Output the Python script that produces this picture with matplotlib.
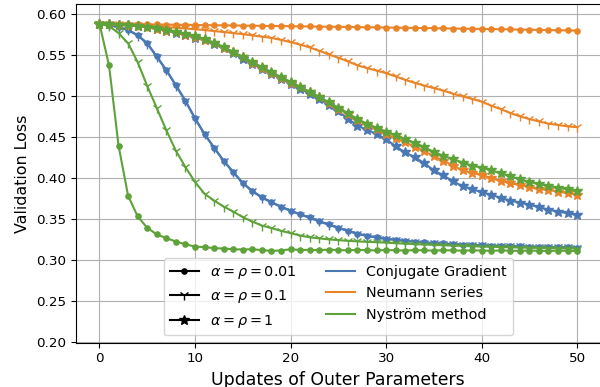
import matplotlib
matplotlib.use("Agg")
import matplotlib.pyplot as plt
from matplotlib.lines import Line2D

# Updates of outer parameters
steps = list(range(51))

# Conjugate Gradient
cg_001 = [0.5880, 0.5865, 0.5840, 0.5805, 0.5740, 0.5643, 0.5480, 0.5315, 0.5130, 0.4940,
          0.4728, 0.4535, 0.4370, 0.4210, 0.4072, 0.3938, 0.3840, 0.3765, 0.3704, 0.3650,
          0.3601, 0.3557, 0.3518, 0.3473, 0.3433, 0.3393, 0.3355, 0.3320, 0.3295, 0.3275,
          0.3258, 0.3245, 0.3232, 0.3222, 0.3213, 0.3206, 0.3200, 0.3193, 0.3187, 0.3183,
          0.3179, 0.3175, 0.3171, 0.3168, 0.3165, 0.3162, 0.3160, 0.3157, 0.3155, 0.3153,
          0.3150]
cg_01 = [0.5880, 0.5862, 0.5835, 0.5800, 0.5735, 0.5638, 0.5475, 0.5310, 0.5125, 0.4935,
         0.4722, 0.4530, 0.4365, 0.4205, 0.4068, 0.3935, 0.3836, 0.3760, 0.3700, 0.3646,
         0.3597, 0.3553, 0.3513, 0.3468, 0.3428, 0.3389, 0.3351, 0.3317, 0.3292, 0.3272,
         0.3255, 0.3242, 0.3230, 0.3220, 0.3211, 0.3204, 0.3198, 0.3191, 0.3186, 0.3181,
         0.3177, 0.3173, 0.3170, 0.3166, 0.3163, 0.3161, 0.3158, 0.3156, 0.3154, 0.3152,
         0.3149]
cg_1 = [0.5880, 0.5872, 0.5866, 0.5858, 0.5848, 0.5835, 0.5815, 0.5792, 0.5768, 0.5740,
        0.5710, 0.5675, 0.5632, 0.5578, 0.5518, 0.5455, 0.5392, 0.5330, 0.5268, 0.5208,
        0.5148, 0.5088, 0.5025, 0.4960, 0.4890, 0.4810, 0.4720, 0.4638, 0.4585, 0.4535,
        0.4472, 0.4385, 0.4310, 0.4250, 0.4180, 0.4090, 0.4030, 0.3958, 0.3898, 0.3862,
        0.3825, 0.3793, 0.3755, 0.3723, 0.3699, 0.3671, 0.3643, 0.3612, 0.3589, 0.3568,
        0.3545]

# Neumann series
ns_001 = [0.5880, 0.5878, 0.5876, 0.5875, 0.5873, 0.5871, 0.5870, 0.5868, 0.5867, 0.5866,
          0.5864, 0.5862, 0.5861, 0.5860, 0.5858, 0.5856, 0.5855, 0.5853, 0.5852, 0.5851,
          0.5849, 0.5847, 0.5846, 0.5844, 0.5843, 0.5841, 0.5840, 0.5838, 0.5836, 0.5835,
          0.5833, 0.5831, 0.5830, 0.5828, 0.5826, 0.5825, 0.5823, 0.5821, 0.5819, 0.5818,
          0.5816, 0.5814, 0.5812, 0.5810, 0.5808, 0.5806, 0.5804, 0.5802, 0.5800, 0.5798,
          0.5795]
ns_01 = [0.5880, 0.5875, 0.5870, 0.5865, 0.5858, 0.5852, 0.5845, 0.5838, 0.5830, 0.5822,
         0.5812, 0.5802, 0.5790, 0.5778, 0.5765, 0.5752, 0.5737, 0.5722, 0.5706, 0.5682,
         0.5655, 0.5625, 0.5590, 0.5550, 0.5505, 0.5465, 0.5420, 0.5372, 0.5338, 0.5308,
         0.5277, 0.5236, 0.5195, 0.5158, 0.5124, 0.5094, 0.5064, 0.5026, 0.4993, 0.4963,
         0.4930, 0.4880, 0.4838, 0.4790, 0.4750, 0.4716, 0.4688, 0.4660, 0.4645, 0.4627,
         0.4618]
ns_1 = [0.5880, 0.5871, 0.5865, 0.5858, 0.5849, 0.5837, 0.5818, 0.5796, 0.5773, 0.5746,
        0.5717, 0.5683, 0.5641, 0.5588, 0.5530, 0.5468, 0.5405, 0.5342, 0.5280, 0.5220,
        0.5162, 0.5103, 0.5042, 0.4980, 0.4912, 0.4845, 0.4775, 0.4705, 0.4645, 0.4590,
        0.4535, 0.4485, 0.4435, 0.4380, 0.4325, 0.4265, 0.4210, 0.4150, 0.4090, 0.4060,
        0.4035, 0.3996, 0.3963, 0.3935, 0.3913, 0.3887, 0.3863, 0.3852, 0.3833, 0.3813,
        0.3793]

# Nystrom method
ny_001 = [0.5880, 0.5370, 0.4390, 0.3780, 0.3530, 0.3390, 0.3310, 0.3265, 0.3223, 0.3190,
          0.3162, 0.3155, 0.3143, 0.3138, 0.3130, 0.3126, 0.3130, 0.3118, 0.3110, 0.3114,
          0.3130, 0.3120, 0.3122, 0.3118, 0.3125, 0.3120, 0.3116, 0.3122, 0.3118, 0.3115,
          0.3120, 0.3117, 0.3114, 0.3119, 0.3116, 0.3113, 0.3118, 0.3115, 0.3112, 0.3116,
          0.3114, 0.3111, 0.3115, 0.3112, 0.3110, 0.3114, 0.3111, 0.3109, 0.3113, 0.3110,
          0.3108]
ny_01 = [0.5880, 0.5850, 0.5765, 0.5640, 0.5410, 0.5120, 0.4850, 0.4580, 0.4330, 0.4130,
         0.3950, 0.3805, 0.3723, 0.3650, 0.3589, 0.3520, 0.3467, 0.3418, 0.3387, 0.3354,
         0.3326, 0.3297, 0.3275, 0.3262, 0.3250, 0.3240, 0.3232, 0.3225, 0.3220, 0.3215,
         0.3210, 0.3203, 0.3197, 0.3192, 0.3187, 0.3183, 0.3178, 0.3174, 0.3170, 0.3166,
         0.3162, 0.3159, 0.3156, 0.3153, 0.3150, 0.3148, 0.3145, 0.3143, 0.3141, 0.3139,
         0.3137]
ny_1 = [0.5880, 0.5873, 0.5867, 0.5860, 0.5851, 0.5840, 0.5822, 0.5800, 0.5778, 0.5752,
        0.5724, 0.5690, 0.5648, 0.5595, 0.5537, 0.5475, 0.5412, 0.5350, 0.5288, 0.5228,
        0.5170, 0.5110, 0.5050, 0.4988, 0.4920, 0.4855, 0.4788, 0.4718, 0.4660, 0.4608,
        0.4565, 0.4518, 0.4472, 0.4425, 0.4375, 0.4315, 0.4268, 0.4228, 0.4187, 0.4148,
        0.4125, 0.4090, 0.4055, 0.4022, 0.3980, 0.3950, 0.3925, 0.3903, 0.3876, 0.3862,
        0.3845]

methods = ['Conjugate Gradient', 'Neumann series', 'Nyström method']
colors = ['#4a78b5', '#ea8429', '#5ea23a']
alpha_labels = [r'$\alpha = \rho = 0.01$', r'$\alpha = \rho = 0.1$', r'$\alpha = \rho = 1$']
markers = ['.', '1', '*']
marker_sizes = [7.5, 7.5, 7.5]
results = [[cg_001, cg_01, cg_1], [ns_001, ns_01, ns_1], [ny_001, ny_01, ny_1]]

fig = plt.figure(figsize=(6, 3.87), dpi=100)
ax = fig.add_axes([0.126, 0.1145, 0.8757, 0.8752])

for m in range(3):
    for a in range(3):
        ax.plot(steps, results[m][a], color=colors[m], marker=markers[a],
                markersize=marker_sizes[a], linewidth=1.5)

ax.set_xlim(-2.5, 52.5)
ax.set_ylim(0.199, 0.612)
ax.set_yticks([0.20, 0.25, 0.30, 0.35, 0.40, 0.45, 0.50, 0.55, 0.60])
ax.set_xticks([0, 10, 20, 30, 40, 50])
ax.tick_params(labelsize=9.7)
ax.grid(True)
ax.set_axisbelow(True)

ax.set_xlabel('Updates of Outer Parameters', fontsize=12.4)
ax.set_ylabel('Validation Loss', fontsize=11.4)

handles = []
for a in range(3):
    handles.append(Line2D([], [], color='black', marker=markers[a], markersize=marker_sizes[a]))
for m in range(3):
    handles.append(Line2D([], [], color=colors[m]))
ax.legend(handles, alpha_labels + methods, loc='lower center', ncol=2, fontsize=10.4)

fig.savefig('out.png', dpi=100)
